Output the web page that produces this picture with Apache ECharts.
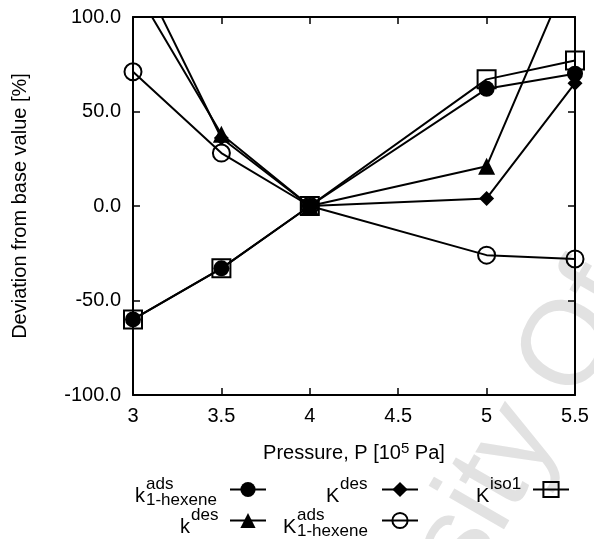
<!DOCTYPE html>
<html>
<head>
<meta charset="utf-8">
<script src="https://cdn.jsdelivr.net/npm/echarts@6/dist/echarts.min.js"></script>
<style>
  html, body { margin: 0; padding: 0; background: #fff; }
  #chart { width: 594px; height: 539px; }
</style>
</head>
<body>
<div id="chart"></div>
<script>
// Pressure points [10^5 Pa]
const pressure = [3, 3.5, 4, 5, 5.5];

// Deviation from the base value [%] for each parameter
const kAdsHexene = [-60, -33, 0, 62, 70];   // k^ads_1-hexene (filled circle)
const kDes       = [117, 38, 0, 21, 130];   // k^des (filled triangle)
const KDes       = [131, 36, 0, 4, 65];     // K^des (filled diamond)
const KAdsHexene = [71, 28, 0, -26, -28];   // K^ads_1-hexene (open circle)
const KIso1      = [-60, -33, 0, 67, 77];   // K^iso1 (open square)

// Axis ranges and tick steps
const xRange = [3, 5.5];
const xStep = 0.5;
const yRange = [-100, 100];
const yStep = 50;

const FONT = '"Liberation Sans", Arial, Helvetica, sans-serif';

const pairs = (ys) => pressure.map((p, i) => [p, ys[i]]);

function lineSeries(name, ys, symbol, size, filled) {
  return {
    name: name,
    type: 'line',
    data: pairs(ys),
    symbol: symbol,
    symbolSize: size,
    showAllSymbol: true,
    clip: true,
    lineStyle: { color: '#000', width: 2 },
    itemStyle: filled
      ? { color: '#000', borderColor: '#000', borderWidth: 0 }
      : { color: 'rgba(0,0,0,0)', borderColor: '#000', borderWidth: 2 },
    emphasis: { disabled: true },
    animation: false
  };
}

// One legend box per entry so the icons sit in a 3 x 2 arrangement
function legendIcon(name, cx, cy) {
  return {
    data: [name],
    left: cx - 18,
    top: cy - 9,
    itemWidth: 36,
    itemHeight: 19,
    padding: 0,
    itemGap: 0,
    selectedMode: false,
    formatter: () => '',
    textStyle: { fontSize: 1 }
  };
}

// Legend label: main letter with superscript and optional subscript
function legendLabel(main, sup, sub, mainX, scriptX, baseY) {
  const els = [
    { type: 'text', x: mainX, y: baseY - 7, style: { text: main, font: '20px ' + FONT, fill: '#000', align: 'left', verticalAlign: 'middle' } },
    { type: 'text', x: scriptX, y: baseY - 19, style: { text: sup, font: '17px ' + FONT, fill: '#000', align: 'left', verticalAlign: 'middle' } }
  ];
  if (sub) {
    els.push({ type: 'text', x: scriptX, y: baseY - 3, style: { text: sub, font: '17px ' + FONT, fill: '#000', align: 'left', verticalAlign: 'middle' } });
  }
  return els;
}

const frameLine = { show: true, onZero: false, lineStyle: { color: '#000', width: 2 } };
const innerTick = { show: true, inside: true, length: 7, lineStyle: { color: '#000', width: 1.5 } };

const option = {
  backgroundColor: '#fff',
  animation: false,
  textStyle: { fontFamily: FONT, color: '#000' },
  grid: { left: 133, right: 19, top: 17, bottom: 144, containLabel: false },
  xAxis: [
    {
      type: 'value', min: xRange[0], max: xRange[1], interval: xStep,
      position: 'bottom',
      axisLine: frameLine, axisTick: innerTick, splitLine: { show: false },
      axisLabel: { show: true, fontSize: 20, color: '#000', margin: 11, fontFamily: FONT },
      name: '{a|Pressure, P [10}{s|5}{a| Pa]}',
      nameLocation: 'middle', nameGap: 46,
      nameTextStyle: {
        rich: {
          a: { fontSize: 20, fontFamily: FONT, color: '#000' },
          s: { fontSize: 15, fontFamily: FONT, color: '#000', verticalAlign: 'top', padding: [0, 0, 9, 0] }
        }
      }
    },
    {
      type: 'value', min: xRange[0], max: xRange[1], interval: xStep,
      position: 'top',
      axisLine: frameLine, axisTick: innerTick, axisLabel: { show: false }, splitLine: { show: false }
    }
  ],
  yAxis: [
    {
      type: 'value', min: yRange[0], max: yRange[1], interval: yStep,
      position: 'left',
      axisLine: frameLine, axisTick: innerTick, splitLine: { show: false },
      axisLabel: { show: true, fontSize: 20, color: '#000', margin: 12, fontFamily: FONT, formatter: (v) => v.toFixed(1) },
      name: 'Deviation from base value [%]',
      nameLocation: 'middle', nameGap: 103,
      nameTextStyle: { fontSize: 20, fontFamily: FONT, color: '#000' }
    },
    {
      type: 'value', min: yRange[0], max: yRange[1], interval: yStep,
      position: 'right',
      axisLine: frameLine, axisTick: innerTick, axisLabel: { show: false }, splitLine: { show: false }
    }
  ],
  legend: [
    legendIcon('kads', 247, 489),
    legendIcon('Kdes', 399, 489),
    legendIcon('Kiso1', 550, 489),
    legendIcon('kdes', 247, 520),
    legendIcon('Kads', 399, 520)
  ],
  graphic: [
    {
      type: 'text', x: 268, y: 872, rotation: Math.PI / 3, z: -100,
      style: { text: 'University Of', font: '120px ' + FONT, fill: '#e2e2e2', align: 'left', verticalAlign: 'middle' }
    },
    ...legendLabel('k', 'ads', '1-hexene', 135, 146, 503),
    ...legendLabel('K', 'des', null, 326, 340, 503),
    ...legendLabel('K', 'iso1', null, 476, 490, 503),
    ...legendLabel('k', 'des', null, 180, 191, 534),
    ...legendLabel('K', 'ads', '1-hexene', 283, 297, 534)
  ],
  series: [
    lineSeries('Kads', KAdsHexene, 'circle', 17, false),
    lineSeries('kads', kAdsHexene, 'circle', 16, true),
    lineSeries('Kdes', KDes, 'diamond', 15, true),
    lineSeries('kdes', kDes, 'triangle', 17, true),
    lineSeries('Kiso1', KIso1, 'rect', 18, false)
  ]
};

const chart = echarts.init(document.getElementById('chart'), null, { renderer: 'canvas' });
chart.setOption(option);
</script>
</body>
</html>
